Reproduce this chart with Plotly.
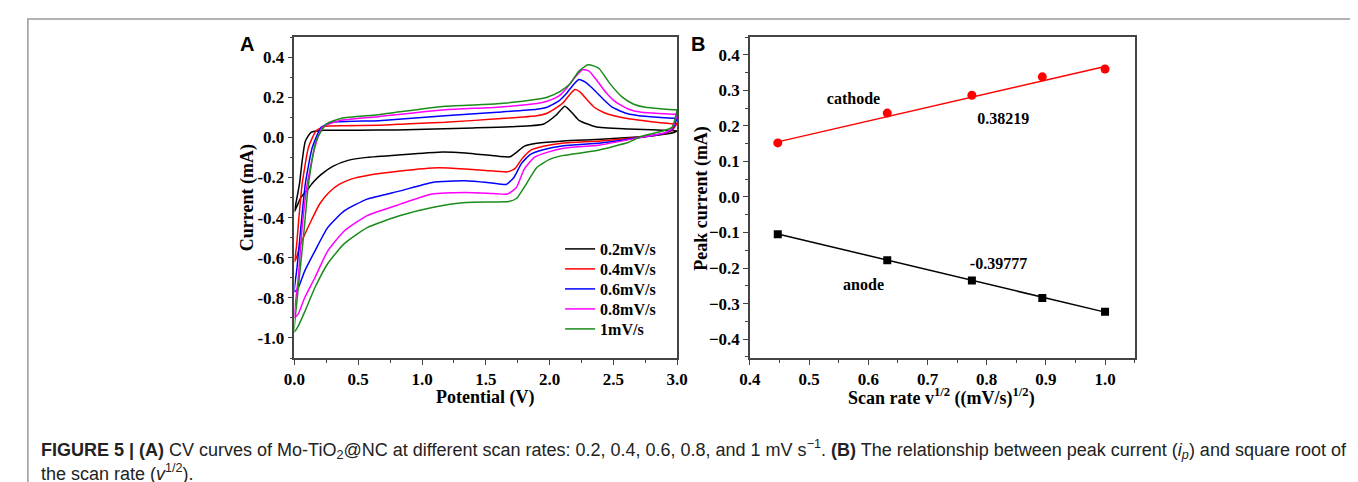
import plotly.graph_objects as go

W, H = 1358, 482

# ---------------- Panel A: CV curves (upper branch 0->3 V, then lower branch 3->0 V) ----------------
rates = ["0.2mV/s", "0.4mV/s", "0.6mV/s", "0.8mV/s", "1mV/s"]
colors = ["#000000", "#ff0000", "#0000ff", "#ff00ff", "#1a8c1a"]

up_x_02 = [0.0, 0.02, 0.04, 0.06, 0.085, 0.13, 0.23, 0.5, 0.8, 1.1, 1.4, 1.7, 1.95, 2.05, 2.12, 2.18, 2.23, 2.36, 2.62, 2.98, 3.0]
up_y_02 = [-0.37, -0.30, -0.23, -0.12, -0.02, 0.025, 0.035, 0.035, 0.037, 0.042, 0.047, 0.053, 0.065, 0.11, 0.155, 0.12, 0.085, 0.053, 0.042, 0.033, 0.032]
lo_x_02 = [3.0, 2.98, 2.9, 2.72, 2.4, 2.11, 1.9, 1.8, 1.74, 1.69, 1.6, 1.34, 1.13, 0.83, 0.57, 0.42, 0.3, 0.21, 0.15, 0.10, 0.05, 0.015, 0.0]
lo_y_02 = [0.032, 0.025, 0.015, 0.003, -0.01, -0.018, -0.03, -0.045, -0.075, -0.097, -0.095, -0.078, -0.074, -0.087, -0.1, -0.115, -0.145, -0.185, -0.222, -0.262, -0.30, -0.35, -0.37]

up_x_04 = [0.0, 0.015, 0.035, 0.06, 0.11, 0.17, 0.24, 0.4, 0.66, 0.9, 1.18, 1.59, 1.9, 1.98, 2.06, 2.11, 2.16, 2.20, 2.24, 2.29, 2.35, 2.42, 2.52, 2.62, 2.8, 2.98, 3.0]
up_y_04 = [-0.62, -0.55, -0.40, -0.233, -0.05, 0.033, 0.055, 0.058, 0.06, 0.068, 0.075, 0.092, 0.108, 0.12, 0.15, 0.175, 0.215, 0.238, 0.225, 0.19, 0.15, 0.125, 0.105, 0.092, 0.078, 0.068, 0.07]
lo_x_04 = [3.0, 2.96, 2.9, 2.72, 2.4, 2.11, 1.95, 1.85, 1.78, 1.73, 1.67, 1.5, 1.34, 1.13, 0.83, 0.57, 0.45, 0.35, 0.27, 0.2, 0.13, 0.05, 0.015, 0.0]
lo_y_04 = [0.07, 0.035, 0.018, 0.002, -0.018, -0.028, -0.045, -0.065, -0.11, -0.155, -0.172, -0.165, -0.158, -0.152, -0.168, -0.19, -0.207, -0.235, -0.275, -0.33, -0.417, -0.53, -0.60, -0.62]

up_x_06 = [0.0, 0.02, 0.05, 0.085, 0.14, 0.21, 0.3, 0.66, 1.18, 1.59, 1.9, 1.98, 2.07, 2.13, 2.19, 2.23, 2.28, 2.34, 2.42, 2.49, 2.6, 2.70, 2.98, 3.0]
up_y_06 = [-0.77, -0.65, -0.45, -0.233, -0.05, 0.05, 0.075, 0.083, 0.108, 0.125, 0.14, 0.15, 0.18, 0.217, 0.265, 0.288, 0.275, 0.242, 0.19, 0.15, 0.12, 0.108, 0.095, 0.095]
lo_x_06 = [3.0, 2.96, 2.9, 2.72, 2.4, 2.11, 1.95, 1.85, 1.78, 1.72, 1.66, 1.55, 1.34, 1.08, 0.83, 0.57, 0.39, 0.26, 0.16, 0.08, 0.03, 0.0]
lo_y_06 = [0.095, 0.04, 0.02, 0.0, -0.028, -0.042, -0.062, -0.085, -0.13, -0.2, -0.235, -0.228, -0.217, -0.225, -0.267, -0.308, -0.367, -0.45, -0.567, -0.667, -0.75, -0.77]

up_x_08 = [0.0, 0.03, 0.06, 0.1, 0.16, 0.22, 0.35, 0.66, 1.18, 1.59, 1.9, 1.98, 2.07, 2.13, 2.2, 2.26, 2.31, 2.36, 2.44, 2.52, 2.62, 2.72, 2.98, 3.0]
up_y_08 = [-0.9, -0.7, -0.45, -0.233, -0.05, 0.05, 0.083, 0.103, 0.137, 0.15, 0.168, 0.18, 0.205, 0.242, 0.3, 0.338, 0.33, 0.292, 0.225, 0.175, 0.14, 0.125, 0.115, 0.115]
lo_x_08 = [3.0, 2.96, 2.9, 2.72, 2.4, 2.11, 1.98, 1.88, 1.8, 1.74, 1.67, 1.55, 1.34, 1.08, 0.83, 0.57, 0.39, 0.26, 0.16, 0.08, 0.03, 0.0]
lo_y_08 = [0.115, 0.045, 0.022, 0.0, -0.038, -0.055, -0.075, -0.1, -0.16, -0.25, -0.283, -0.28, -0.275, -0.283, -0.333, -0.39, -0.467, -0.567, -0.7, -0.8, -0.88, -0.9]

up_x_10 = [0.0, 0.03, 0.07, 0.11, 0.17, 0.25, 0.37, 0.66, 1.18, 1.59, 1.9, 1.98, 2.08, 2.16, 2.23, 2.30, 2.35, 2.39, 2.47, 2.57, 2.66, 2.75, 2.98, 3.0]
up_y_10 = [-0.97, -0.75, -0.5, -0.233, -0.017, 0.067, 0.095, 0.113, 0.155, 0.167, 0.19, 0.2, 0.228, 0.267, 0.33, 0.362, 0.355, 0.342, 0.27, 0.2, 0.165, 0.15, 0.138, 0.138]
lo_x_10 = [3.0, 2.96, 2.88, 2.72, 2.62, 2.36, 2.11, 2.0, 1.9, 1.8, 1.74, 1.68, 1.55, 1.34, 1.08, 0.83, 0.57, 0.39, 0.26, 0.16, 0.08, 0.03, 0.0]
lo_y_10 = [0.138, 0.05, 0.03, 0.005, -0.025, -0.067, -0.09, -0.11, -0.15, -0.25, -0.305, -0.32, -0.322, -0.325, -0.35, -0.39, -0.45, -0.53, -0.63, -0.75, -0.87, -0.94, -0.97]

cv_curves = [
    (up_x_02 + lo_x_02, up_y_02 + lo_y_02),
    (up_x_04 + lo_x_04, up_y_04 + lo_y_04),
    (up_x_06 + lo_x_06, up_y_06 + lo_y_06),
    (up_x_08 + lo_x_08, up_y_08 + lo_y_08),
    (up_x_10 + lo_x_10, up_y_10 + lo_y_10),
]

# ---------------- Panel B: peak current vs sqrt(scan rate) ----------------
sqrt_rate = [0.447, 0.632, 0.775, 0.894, 1.0]
cathode_ip = [0.152, 0.236, 0.286, 0.338, 0.360]
anode_ip = [-0.105, -0.178, -0.235, -0.284, -0.323]
fit_x = [0.447, 1.0]
cathode_fit = [0.155, 0.367]
anode_fit = [-0.104, -0.324]
B_labels = ["cathode", "0.38219", "anode", "-0.39777"]
B_label_x = [0.575, 0.828, 0.592, 0.82]
B_label_y = [0.273, 0.217, -0.251, -0.192]

A_xticks = [0.0, 0.5, 1.0, 1.5, 2.0, 2.5, 3.0]
A_yticks = [0.4, 0.2, 0.0, -0.2, -0.4, -0.6, -0.8, -1.0]

SERIF = "Liberation Serif"
SANS = "Liberation Sans"
AX = "#444444"

legend_names = ["legend", "legend2", "legend3", "legend4", "legend5"]
legend_rows = [241, 261, 281, 301, 321]

fig = go.Figure()
for (xs, ys), name, c, lg in zip(cv_curves, rates, colors, legend_names):
    fig.add_trace(go.Scatter(x=xs, y=ys, mode="lines", name=name, legend=lg,
                             line=dict(color=c, width=1.5, shape="spline", smoothing=0.5),
                             xaxis="x", yaxis="y"))

fig.add_trace(go.Scatter(x=fit_x, y=cathode_fit, mode="lines", line=dict(color="#ff0000", width=1.5),
                         showlegend=False, xaxis="x2", yaxis="y2"))
fig.add_trace(go.Scatter(x=sqrt_rate, y=cathode_ip, mode="markers",
                         marker=dict(color="#ff0000", size=9, symbol="circle"),
                         showlegend=False, xaxis="x2", yaxis="y2"))
fig.add_trace(go.Scatter(x=fit_x, y=anode_fit, mode="lines", line=dict(color="#000000", width=1.5),
                         showlegend=False, xaxis="x2", yaxis="y2"))
fig.add_trace(go.Scatter(x=sqrt_rate, y=anode_ip, mode="markers",
                         marker=dict(color="#000000", size=8, symbol="square"),
                         showlegend=False, xaxis="x2", yaxis="y2"))
fig.add_trace(go.Scatter(x=B_label_x, y=B_label_y, mode="text", text=B_labels,
                         textposition="middle center",
                         textfont=dict(family=SERIF, size=16, color="#000", weight="bold"),
                         showlegend=False, hoverinfo="skip", xaxis="x2", yaxis="y2"))

tickfont = dict(family=SERIF, size=17, color="#000", weight="bold")
common = dict(showgrid=False, zeroline=False, showline=True, linecolor=AX, linewidth=1.5,
              mirror=True, ticks="outside", ticklen=5, tickwidth=1.3, tickcolor=AX,
              tickfont=tickfont)

fig.update_layout(
    width=W, height=H, margin=dict(l=0, r=0, t=0, b=0),
    paper_bgcolor="white", plot_bgcolor="white",
    font=dict(family=SERIF, size=16, color="#000"),
    xaxis=dict(domain=[280 / W, 669 / W], range=[0, 3.0], tickvals=A_xticks,
               ticktext=[f"{v:.1f}" for v in A_xticks],
               minor=dict(dtick=0.25, ticklen=3, tickwidth=1.2, tickcolor=AX, ticks="outside"),
               anchor="y", **common),
    yaxis=dict(domain=[1 - 350 / H, 1 - 29 / H], range=[-1.1, 0.5], tickvals=A_yticks,
               ticktext=[f"{v:.1f}" for v in A_yticks],
               minor=dict(dtick=0.1, ticklen=3, tickwidth=1.2, tickcolor=AX, ticks="outside"),
               anchor="x", **common),
    xaxis2=dict(domain=[743 / W, 1134 / W], range=[0.4, 1.05], dtick=0.1, tickformat=".1f",
                minor=dict(dtick=0.05, ticklen=3, tickwidth=1.2, tickcolor=AX, ticks="outside"),
                anchor="y2", **common),
    yaxis2=dict(domain=[1 - 350 / H, 1 - 29 / H], range=[-0.453, 0.45], dtick=0.1, tickformat=".1f",
                minor=dict(dtick=0.05, ticklen=3, tickwidth=1.2, tickcolor=AX, ticks="outside"),
                anchor="x2", **common),
    showlegend=True,
)
for lg, row in zip(legend_names, legend_rows):
    fig.update_layout({lg: dict(x=550 / W, y=1 - row / H, xanchor="left", yanchor="middle",
                                bgcolor="rgba(0,0,0,0)", borderwidth=0,
                                font=dict(family=SERIF, size=16, color="#000", weight="bold"),
                                itemwidth=30)})

ann = []
def T(x, y, text, size=18, family=SERIF, angle=0, xanchor="center", bold=True, color="#000"):
    ann.append(dict(x=x / W, y=1 - y / H, xref="paper", yref="paper", text=text, showarrow=False,
                    xanchor=xanchor, yanchor="middle", textangle=angle,
                    align="left" if xanchor == "left" else "center",
                    font=dict(family=family, size=size, color=color, weight="bold" if bold else "normal")))

T(232, 36, "A", size=20, family=SANS)
T(690, 36, "B", size=20, family=SANS)
T(474, 389, "Potential (V)")
T(233, 190, "Current (mA)", angle=-90)
T(694, 190, "Peak current (mA)", angle=-90)
T(938, 389, "Scan rate v<sup>1/2</sup> ((mV/s)<sup>1/2</sup>)")

cap1 = ("<b>FIGURE 5 | (A)</b> CV curves of Mo-TiO<sub>2</sub>@NC at different scan rates: 0.2, 0.4, 0.6, 0.8, "
        "and 1 mV s<sup>\u22121</sup>. <b>(B)</b> The relationship between peak current (<i>i<sub>p</sub></i>) "
        "and square root of")
cap2 = "the scan rate (<i>v</i><sup>1/2</sup>)."
T(20, 441, cap1, size=18, family=SANS, xanchor="left", bold=False, color="#222")
T(20, 464, cap2, size=18, family=SANS, xanchor="left", bold=False, color="#222")

fig.update_layout(annotations=ann)
fig.add_shape(type="rect", xref="paper", yref="paper", x0=9 / W, x1=1355 / W, y0=1 - 478 / H, y1=1 - 11 / H,
              line=dict(color="#9a9a9a", width=1.5), fillcolor="rgba(0,0,0,0)", layer="below")

fig.write_html("out.html")
